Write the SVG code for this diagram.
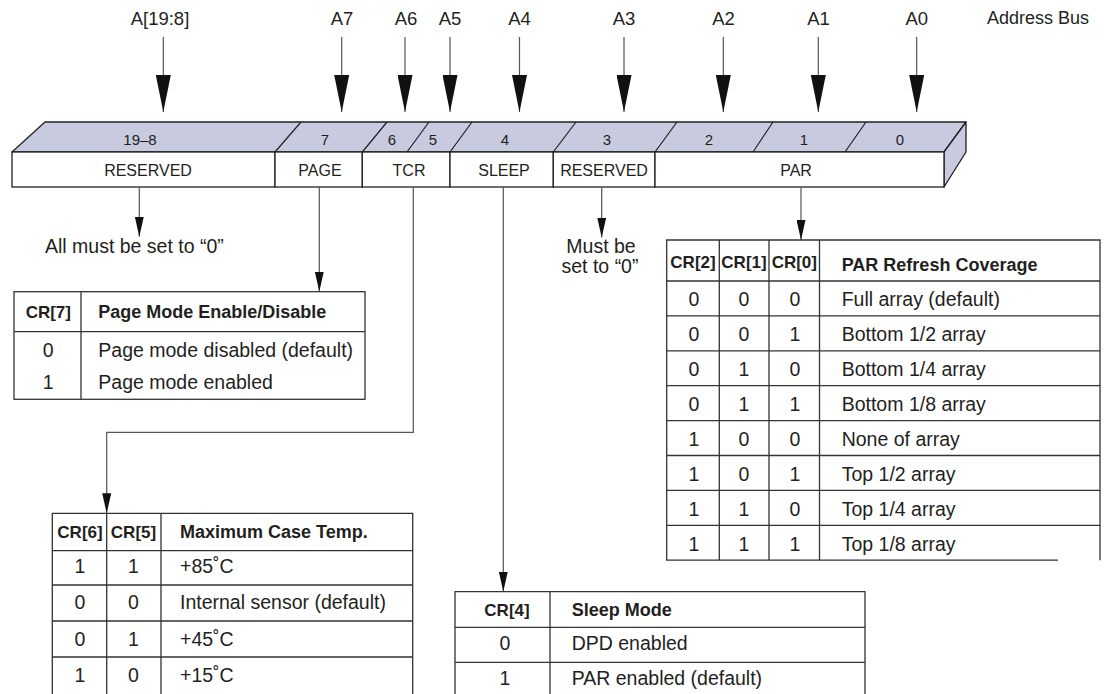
<svg xmlns="http://www.w3.org/2000/svg" width="1106" height="694" viewBox="0 0 1106 694">
<defs>
<style>
text { font-family: "Liberation Sans", Arial, sans-serif; fill: #231f20; }
.bus { font-size: 18.5px; text-anchor: middle; }
.busname { font-size: 18px; }
.bit { font-size: 15px; text-anchor: middle; }
.fld { font-size: 16px; text-anchor: middle; }
.note { font-size: 19.5px; }
.mid { text-anchor: middle; }
.hd { font-weight: bold; font-size: 18px; }
.hdc { font-weight: bold; font-size: 17px; text-anchor: middle; }
.td { font-size: 19.5px; }
.tdc { font-size: 19.5px; text-anchor: middle; }
.bar { fill: #ffffff; stroke: #231f20; stroke-width: 1.3; }
.face { fill: #c8cadf; stroke: #231f20; stroke-width: 1.3; stroke-linejoin: round; }
.div { stroke: #231f20; stroke-width: 1.2; fill: none; }
.busline { stroke: #555555; stroke-width: 1.2; fill: none; marker-end: url(#big); }
.conn { stroke: #555555; stroke-width: 1.2; fill: none; marker-end: url(#small); }
.grid { stroke: #333333; stroke-width: 1.3; fill: none; }
</style>
<marker id="big" markerUnits="userSpaceOnUse" viewBox="0 0 37 15" refX="37" refY="7.5" markerWidth="37" markerHeight="15" orient="auto"><path d="M0,0 L37,7.5 L0,15 z" fill="#111111"/></marker>
<marker id="small" markerUnits="userSpaceOnUse" viewBox="0 0 20 9" refX="20" refY="4.5" markerWidth="20" markerHeight="9" orient="auto"><path d="M0,0 L20,4.5 L0,9 z" fill="#111111"/></marker>
</defs>

<g id="address-bus">
<text class="bus" x="160" y="25">A[19:8]</text>
<text class="bus" x="342" y="25">A7</text>
<text class="bus" x="406" y="25">A6</text>
<text class="bus" x="450" y="25">A5</text>
<text class="bus" x="519.5" y="25">A4</text>
<text class="bus" x="624" y="25">A3</text>
<text class="bus" x="723.5" y="25">A2</text>
<text class="bus" x="818.5" y="25">A1</text>
<text class="bus" x="916.7" y="25">A0</text>
<text class="busname" x="987" y="24">Address Bus</text>
</g>

<g id="bus-arrows">
<path class="busline" d="M163.3,37 V112"/>
<path class="busline" d="M341.7,37 V112"/>
<path class="busline" d="M405,37 V112"/>
<path class="busline" d="M450,37 V112"/>
<path class="busline" d="M519.5,37 V112"/>
<path class="busline" d="M624,37 V112"/>
<path class="busline" d="M723.3,37 V112"/>
<path class="busline" d="M818.3,37 V112"/>
<path class="busline" d="M916.7,37 V112"/>
</g>

<g id="register">
<polygon class="face" points="12,152 45,122 966,122 944,152"/>
<polygon class="face" points="944,152 966,122 966,152 944,187"/>
<g id="slants">
<path class="div" d="M275,152 L301,122 M362.3,152 L387,122 M407,152 L429,122 M450,152 L472,122 M553.3,152 L576,122 M655,152 L677,122 M753,152 L773,122 M845,152 L866,122"/>
</g>
<g id="field-reserved-hi">
<rect class="bar" x="12" y="152" width="263" height="35"/>
<text class="bit" x="140" y="145">19–8</text>
<text class="fld" x="148" y="176">RESERVED</text>
</g>
<g id="field-page">
<rect class="bar" x="275" y="152" width="87.3" height="35"/>
<text class="bit" x="325" y="145">7</text>
<text class="fld" x="320" y="176">PAGE</text>
</g>
<g id="field-tcr">
<rect class="bar" x="362.3" y="152" width="87.7" height="35"/>
<text class="bit" x="392" y="145">6</text>
<text class="bit" x="433" y="145">5</text>
<text class="fld" x="409" y="176">TCR</text>
</g>
<g id="field-sleep">
<rect class="bar" x="450" y="152" width="103.3" height="35"/>
<text class="bit" x="505" y="145">4</text>
<text class="fld" x="504" y="176">SLEEP</text>
</g>
<g id="field-reserved-lo">
<rect class="bar" x="553.3" y="152" width="101.7" height="35"/>
<text class="bit" x="607" y="145">3</text>
<text class="fld" x="604" y="176">RESERVED</text>
</g>
<g id="field-par">
<rect class="bar" x="655" y="152" width="289" height="35"/>
<text class="bit" x="709" y="145">2</text>
<text class="bit" x="804" y="145">1</text>
<text class="bit" x="900" y="145">0</text>
<text class="fld" x="796" y="176">PAR</text>
</g>
</g>

<g id="connectors">
<path class="conn" d="M139.3,187 V236.7"/>
<path class="conn" d="M319.3,187 V291.5"/>
<path class="conn" d="M413.3,187 V432.3 H106.7 V513.3"/>
<path class="conn" d="M503.3,187 V591.5"/>
<path class="conn" d="M601.7,187 V237.5"/>
<path class="conn" d="M801,187 V240"/>
</g>

<g id="note-reserved-hi">
<text class="note" x="45" y="253">All must be set to “0”</text>
</g>

<g id="note-reserved-lo">
<text class="note mid" x="601" y="252.7">Must be</text>
<text class="note mid" x="600" y="272.7">set to “0”</text>
</g>

<g id="table-page">
<rect class="grid" x="14" y="291.7" width="351" height="107.6"/>
<path class="grid" d="M14,331.7 H365 M81,291.7 V399.3"/>
<text class="hdc" x="48.3" y="318">CR[7]</text>
<text class="hd" x="98.3" y="318">Page Mode Enable/Disable</text>
<text class="tdc" x="48.3" y="356.7">0</text>
<text class="td" x="98.3" y="356.7">Page mode disabled (default)</text>
<text class="tdc" x="48.3" y="389.3">1</text>
<text class="td" x="98.3" y="389.3">Page mode enabled</text>
</g>

<g id="table-tcr">
<path class="grid" d="M52.3,694 V513.3 H412.7 V694 M106.7,513.3 V694 M161,513.3 V694 M52.3,550.7 H412.7 M52.3,585 H412.7 M52.3,621 H412.7 M52.3,657 H412.7"/>
<text class="hdc" x="80" y="538.3">CR[6]</text>
<text class="hdc" x="133.5" y="538.3">CR[5]</text>
<text class="hd" x="180" y="538.3">Maximum Case Temp.</text>
<text class="tdc" x="80" y="573.3">1</text>
<text class="tdc" x="133.5" y="573.3">1</text>
<text class="td" x="180" y="573.3">+85˚C</text>
<text class="tdc" x="80" y="609.3">0</text>
<text class="tdc" x="133.5" y="609.3">0</text>
<text class="td" x="180" y="609.3">Internal sensor (default)</text>
<text class="tdc" x="80" y="646">0</text>
<text class="tdc" x="133.5" y="646">1</text>
<text class="td" x="180" y="646">+45˚C</text>
<text class="tdc" x="80" y="681.7">1</text>
<text class="tdc" x="133.5" y="681.7">0</text>
<text class="td" x="180" y="681.7">+15˚C</text>
</g>

<g id="table-sleep">
<path class="grid" d="M455,694 V591.7 H865 V694 M550,591.7 V694 M455,627.3 H865 M455,662.3 H865"/>
<text class="hdc" x="507" y="616">CR[4]</text>
<text class="hd" x="571.7" y="616">Sleep Mode</text>
<text class="tdc" x="505" y="650">0</text>
<text class="td" x="571.7" y="650">DPD enabled</text>
<text class="tdc" x="505" y="685">1</text>
<text class="td" x="571.7" y="685">PAR enabled (default)</text>
</g>

<g id="table-par">
<path class="grid" d="M1058,560.2 H666.7 V240 H1100 V560.2 M719.3,240 V560.2 M769,240 V560.2 M819.5,240 V560.2 M666.7,281 H1100 M666.7,315.9 H1100 M666.7,350.8 H1100 M666.7,385.7 H1100 M666.7,420.6 H1100 M666.7,455.5 H1100 M666.7,490.4 H1100 M666.7,525.3 H1100"/>
<text class="hdc" x="693" y="268">CR[2]</text>
<text class="hdc" x="744" y="268">CR[1]</text>
<text class="hdc" x="794.3" y="268">CR[0]</text>
<text class="hd" x="841.7" y="270.7">PAR Refresh Coverage</text>
<g class="tdc">
<text class="tdc" x="694" y="306.3">0</text><text class="tdc" x="744" y="306.3">0</text><text class="tdc" x="795" y="306.3">0</text>
<text class="tdc" x="694" y="341.2">0</text><text class="tdc" x="744" y="341.2">0</text><text class="tdc" x="795" y="341.2">1</text>
<text class="tdc" x="694" y="376.1">0</text><text class="tdc" x="744" y="376.1">1</text><text class="tdc" x="795" y="376.1">0</text>
<text class="tdc" x="694" y="411">0</text><text class="tdc" x="744" y="411">1</text><text class="tdc" x="795" y="411">1</text>
<text class="tdc" x="694" y="445.9">1</text><text class="tdc" x="744" y="445.9">0</text><text class="tdc" x="795" y="445.9">0</text>
<text class="tdc" x="694" y="480.8">1</text><text class="tdc" x="744" y="480.8">0</text><text class="tdc" x="795" y="480.8">1</text>
<text class="tdc" x="694" y="515.7">1</text><text class="tdc" x="744" y="515.7">1</text><text class="tdc" x="795" y="515.7">0</text>
<text class="tdc" x="694" y="550.6">1</text><text class="tdc" x="744" y="550.6">1</text><text class="tdc" x="795" y="550.6">1</text>
</g>
<text class="td" x="841.7" y="306.3">Full array (default)</text>
<text class="td" x="841.7" y="341.2">Bottom 1/2 array</text>
<text class="td" x="841.7" y="376.1">Bottom 1/4 array</text>
<text class="td" x="841.7" y="411">Bottom 1/8 array</text>
<text class="td" x="841.7" y="445.9">None of array</text>
<text class="td" x="841.7" y="480.8">Top 1/2 array</text>
<text class="td" x="841.7" y="515.7">Top 1/4 array</text>
<text class="td" x="841.7" y="550.6">Top 1/8 array</text>
</g>
</svg>
